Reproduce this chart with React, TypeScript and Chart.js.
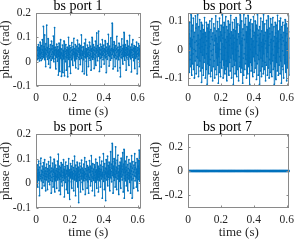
import React, { useEffect, useRef } from "react";
import { Chart, registerables } from "chart.js";

Chart.register(...registerables);

// sampling (s)
const SAMPLE_STEP = 0.001546;
const PORT7_STEP = 0.0031;
const TITLES = ["bs port 1", "bs port 3", "bs port 5", "bs port 7"];
const X_TICKS = [0, 0.2, 0.4, 0.6];
const X_MAX = 0.617;

// phase samples in milliradians
const PORT1_MRAD = [
  42, 18, 55, 30, 8, 61, 25, 47, 12, 70, 35, 20, 58, 3, 44, 28, 80, 15, 50, 33,
  5, 66, 38, 22, 90, 12, 48, 30, 145, 40, 18, 62, 26, 110, 8, 52, 35, -20, 74, 28,
  46, 150, 20, 58, 10, 38, 95, 25, -10, 64, 32, 15, 55, 40, -25, 70, 22, 48, 6, 84,
  30, 52, 14, 40, 66, 20, 105, 35, 0, 58, 28, 140, 45, 12, 60, 24, -30, 50, 36, 72,
  18, 44, 2, 62, 30, -55, 48, 22, 76, 10, 40, -40, 56, 26, 90, 14, 36, -60, 52, 32,
  8, 68, 24, -45, 46, 38, 12, 85, 28, -58, 54, 20, 42, 0, 70, 34, -35, 48, 16, 60,
  26, -62, 44, 36, 100, 10, 52, -20, 30, 66, 18, 40, -48, 58, 24, 46, 8, 78, 32, 14,
  50, -15, 62, 28, 40, 96, 20, 54, 4, 36, 70, 26, -25, 48, 34, 12, 64, 22, 88, 30,
  44, -30, 56, 18, 38, 72, 10, 50, 30, -12, 66, 24, 46, 110, 14, 58, 32, -40, 42, 26,
  62, 8, 48, 34, -50, 76, 20, 40, 28, 92, 16, 54, 2, 44, -55, 36, 68, 22, 50, 30,
  -20, 58, 38, 14, 80, 26, 46, 6, 64, 32, -35, 52, 20, 42, 100, 24, 56, 10, 36, 70,
  18, 48, -28, 60, 30, 44, 12, 84, 26, -15, 54, 36, 118, 20, 46, 4, 66, 28, 40, 125,
  22, 58, -40, 50, 34, 14, 72, 30, 48, -22, 62, 18, 40, 90, 26, 54, 8, 44, 32, 68,
  -10, 52, 24, 38, 86, 16, 46, 30, -45, 60, 20, 42, 10, 74, 34, 50, 112, 26, 56, -18,
  40, 64, 22, 48, 6, 36, 98, 28, 54, 14, 44, 158, 30, 70, -30, 50, 24, 40, 82, 18,
  58, 32, -20, 46, 26, 66, 12, 52, 38, 104, 20, 44, -38, 60, 28, 48, 8, 76, 34, 24,
  50, -25, -62, 40, 62, 18, 46, 30, 94, 14, 54, 36, -10, 68, 22, 42, 120, 28, 56, 6,
  38, 70, 24, 48, -35, 58, 32, 16, 86, 40, 26, 52, 10, 64, 30, -15, 46, 108, 20, 44,
  34, 60, 12, 50, -42, 38, 72, 26, 48, 18, 90, 30, 56, 4, 42, 66, 22, -28, 54, 36,
  14, 62, 40, 28, 80, 20, -50, 46, 32, 58, 10, 74, 36, 24, 52, -20, 44, 66, 30, 48,
];

const PORT3_MRAD = [
  30, -45, 70, -10, 55, -80, 20, 95, -35, 40, -60, 10, 122, -20, 65, -90, 35, 5, -50, 85,
  -15, 110, -70, 45, 0, -100, 60, 25, -40, 118, -5, 75, -85, 30, -25, 90, -55, 15, 122, -30,
  50, -95, 20, 80, -60, 5, 105, -40, 35, -75, 65, -10, 95, -115, 40, 10, -65, 85, -20, 55,
  -90, 25, 70, -45, 0, 112, -30, 60, -100, 15, 45, -70, 95, -15, 30, -122, 75, 5, -50, 88,
  -25, 40, -85, 62, 10, -55, 100, -35, 20, -95, 70, -5, 45, -75, 108, -20, 35, -110, 58, 0,
  -60, 90, 15, -40, 75, -100, 30, 50, -70, 118, -10, 40, -88, 65, -30, 20, 98, -55, 5, -118,
  72, -25, 45, -80, 110, 0, -45, 62, -95, 30, 85, -15, 50, -65, 20, 122, -35, 40, -100, 78,
  10, -55, 95, -20, 60, -85, 35, 5, -70, 115, -40, 25, 80, -110, 45, -10, 68, -60, 100, -25,
  30, -90, 55, 15, -45, 88, -75, 40, 120, -30, 62, -100, 20, 5, -60, 95, -15, 50, -122, 70,
  -35, 25, 105, -55, 40, -85, 65, 0, -40, 112, -20, 78, -95, 35, 10, -70, 90, -5, 55, -110,
  45, -25, 85, -60, 20, 122, -45, 60, -80, 30, -10, 100, -65, 40, 15, -118, 72, -30, 50, -90,
  122, -15, 35, -70, 88, 5, -50, 110, -35, 62, -100, 25, 80, -20, 45, -85, 120, -40, 10, -60,
  95, -30, 55, -122, 70, 0, -45, 105, -75, 38, 18, -55, 90, -10, 65, -95, 30, 115, -25, 48,
  -80, 60, 8, -40, 100, -65, 42, -15, 85, -105, 28, 72, -50, 122, -20, 50, -90, 15, 68, -35,
  40, -122, 80, -5, 55, -75, 110, -30, 25, -95, 65, 10, -60, 98, -40, 35, -85, 122, -15, 50,
  -70, 20, 90, -45, 60, -110, 30, 5, -55, 102, -25, 70, -90, 40, -10, 118, -65, 45, 15, -100,
  75, -35, 55, -80, 25, 108, -50, 35, -15, 88, -95, 62, 0, -40, 112, -70, 30, -20, 80, -122,
  45, 10, -60, 95, -30, 58, -105, 22, 85, -45, 40, -75, 120, -10, 65, -90, 28, 5, -55, 100,
  -25, 70, -85, 35, 110, -40, 52, -118, 18, 80, -60, 42, -5, 95, -70, 30, -100, 60, -20, 85,
  15, -50, 105, -35, 48, -80, 25, 90, -110, 55, 0, -45, 75, -65, 38, 118, -30, 62, -90, 40,
];

const PORT5_MRAD = [
  48, 20, 62, 8, 40, 75, 30, -15, 55, 25, 90, 12, 44, -50, 66, 34, 18, 80, 28, 102,
  10, 52, 36, -20, 70, 22, 46, 4, 84, 32, 58, -10, 40, 96, 16, 50, 28, -30, 64, 38,
  14, 78, 26, 48, -25, 60, 34, 6, 88, 20, 54, 40, -5, 72, 30, 106, 12, 46, -40, 62,
  24, 50, 8, 82, 36, -15, 58, 28, 44, 98, 18, 66, -35, 40, 30, 74, 10, 52, 26, -20,
  60, 34, 90, 14, 48, 118, 22, 56, -30, 42, 70, 16, 36, -45, 64, 28, 84, 6, 50, 32,
  -10, 76, 24, 44, 12, 96, 30, 58, -55, 40, 20, 68, 34, 4, 86, 26, -25, 52, 38, 72,
  16, 48, -40, 62, 30, 100, 10, 54, 36, -65, 44, 22, 80, 28, 58, 6, 70, -20, 46, 34,
  92, 18, 40, 64, -30, 52, 26, 110, 14, 48, 32, -50, 74, 38, 20, 60, 8, 86, 30, 44,
  -15, 66, 24, -78, 50, 36, 12, 82, 28, 56, -35, 42, 70, 18, 94, 30, 4, 62, 40, -25,
  54, 26, 78, 10, 46, 34, 104, 20, -45, 60, 38, 14, 88, 28, 52, -20, 72, 36, 6, 66,
  30, -40, 56, 24, 92, 16, 44, 70, -10, 50, 34, 112, 8, 62, 26, -30, 48, 80, 20, 40,
  58, 12, 76, 32, -50, 66, 22, 46, 98, 4, 54, 36, -20, 84, 28, 42, 14, 70, -35, 50,
  24, 60, 38, 106, 10, 48, -15, 74, 30, 56, 18, 90, 36, -60, 44, 26, 68, 120, 8, 52,
  34, -25, 80, 20, 46, 62, -70, 38, 96, 14, 58, 28, 42, 110, -10, 50, 72, 24, 36, 86,
  16, 64, -30, 54, 40, 128, 22, 48, 78, 6, 60, 162, 32, 88, -40, 44, 70, 26, 100, 12,
  56, 36, -15, 82, 148, 24, 50, 66, -25, 40, 94, 18, 60, 114, 30, 46, -45, 72, 28, 54,
  8, 86, 38, 62, -20, 102, 26, 48, 70, 14, 56, 124, 34, -35, 78, 42, 138, -60, 20, 58,
  30, 90, 46, 10, 66, -10, 52, 108, 36, 24, 76, -30, 44, 60, 18, 96, 32, 54, 4, 82,
  40, -40, 68, 26, 50, 112, 14, -60, 62, 36, 88, 20, 46, -20, 74, 30, 56, 120, 10, 64,
  28, 84, 42, -15, 58, 22, 100, 36, 48, -30, 70, 16, 92, 40, 135, 26, 60, 8, 50, 78,
];

const PORT7_MRAD = [
  0, 0, 0, 0, 0, 0, 0, 0, 0, 0, 0, 0, 0, 0, 0, 0, 0, 0, 0, 0,
  0, 0, 0, 0, 0, 0, 0, 0, 0, 0, 0, 0, 0, 0, 0, 0, 0, 0, 0, 0,
  0, 0, 0, 0, 0, 0, 0, 0, 0, 0, 0, 0, 0, 0, 0, 0, 0, 0, 0, 0,
  0, 0, 0, 0, 0, 0, 0, 0, 0, 0, 0, 0, 0, 0, 0, 0, 0, 0, 0, 0,
  0, 0, 0, 0, 0, 0, 0, 0, 0, 0, 0, 0, 0, 0, 0, 0, 0, 0, 0, 0,
  0, 0, 0, 0, 0, 0, 0, 0, 0, 0, 0, 0, 0, 0, 0, 0, 0, 0, 0, 0,
  0, 0, 0, 0, 0, 0, 0, 0, 0, 0, 0, 0, 0, 0, 0, 0, 0, 0, 0, 0,
  0, 0, 0, 0, 0, 0, 0, 0, 0, 0, 0, 0, 0, 0, 0, 0, 0, 0, 0, 0,
  0, 0, 0, 0, 0, 0, 0, 0, 0, 0, 0, 0, 0, 0, 0, 0, 0, 0, 0, 0,
  0, 0, 0, 0, 0, 0, 0, 0, 0, 0, 0, 0, 0, 0, 0, 0, 0, 0, 0, 0,
];

const Y_TICKS_1 = [-0.1, 0, 0.1, 0.2];
const Y_TICKS_3 = [-0.1, 0, 0.1];
const Y_TICKS_5 = [-0.1, 0, 0.1, 0.2];
const Y_TICKS_7 = [-0.2, 0, 0.2];

const FONT = '"Liberation Serif", "Times New Roman", serif';
const BLUE = "#0072BD";

const boxPlugin = {
  id: "mbox",
  afterDraw(chart: any, _args: any, opts: any) {
    const { ctx, chartArea: a, scales } = chart;
    ctx.save();
    ctx.strokeStyle = "#8a8a8a";
    ctx.lineWidth = 1;
    const l = Math.round(a.left) + 0.5;
    const t = Math.round(a.top) + 0.5;
    const r = Math.round(a.right) - 0.5;
    const b = Math.round(a.bottom) - 0.5;
    ctx.strokeRect(l, t, r - l, b - t);
    const tl = 2;
    ctx.beginPath();
    scales.x.ticks.forEach((tk: any) => {
      const px = Math.round(scales.x.getPixelForValue(tk.value)) + 0.5;
      ctx.moveTo(px, b);
      ctx.lineTo(px, b - tl);
      ctx.moveTo(px, t);
      ctx.lineTo(px, t + tl);
    });
    scales.y.ticks.forEach((tk: any) => {
      const py = Math.round(scales.y.getPixelForValue(tk.value)) + 0.5;
      ctx.moveTo(l, py);
      ctx.lineTo(l + tl, py);
      ctx.moveTo(r, py);
      ctx.lineTo(r - tl, py);
    });
    ctx.stroke();
    // title
    if (opts && opts.text) {
      ctx.fillStyle = "#000";
      ctx.font = `14px ${FONT}`;
      ctx.textAlign = "center";
      ctx.textBaseline = "alphabetic";
      ctx.fillText(opts.text, chart.width / 2 + 3, 9.5);
    }
    ctx.restore();
  },
};

const fmt = (v: any) => String(Math.round(Number(v) * 100) / 100);

type PanelProps = {
  title: string;
  valuesMrad: number[];
  step: number;
  yMin: number;
  yMax: number;
  yTicks: number[];
  left: number;
  top: number;
  width: number;
  height: number;
  yWidth: number;
  rightPad: number;
  xHeight: number;
  thick?: boolean;
};

function Panel(p: PanelProps) {
  const ref = useRef<HTMLCanvasElement>(null);
  useEffect(() => {
    if (!ref.current) return;
    const data = p.valuesMrad.map((v, i) => ({ x: i * p.step, y: v / 1000 }));
    const chart = new Chart(ref.current, {
      type: "line",
      data: {
        datasets: [
          {
            data,
            borderColor: BLUE,
            borderWidth: p.thick ? 1.5 : 0.7,
            pointRadius: p.thick ? 1.2 : 0.9,
            pointBackgroundColor: BLUE,
            pointBorderWidth: 0,
            tension: 0,
          },
        ],
      },
      options: {
        responsive: false,
        animation: false,
        devicePixelRatio: 1,
        layout: { padding: { top: 13, right: p.rightPad, bottom: 0, left: 0 } },
        plugins: {
          legend: { display: false },
          tooltip: { enabled: false },
          title: { display: false },
          mbox: { text: p.title },
        },
        scales: {
          x: {
            type: "linear",
            min: 0,
            max: X_MAX,
            afterBuildTicks: (s: any) => {
              s.ticks = X_TICKS.map((v) => ({ value: v }));
            },
            afterFit: (s: any) => {
              s.height = p.xHeight;
            },
            grid: { display: false, drawTicks: false },
            border: { display: false },
            ticks: {
              autoSkip: false,
              maxRotation: 0,
              padding: 5,
              color: "#262626",
              font: { family: FONT, size: 11.5 },
              callback: fmt,
            },
            title: {
              display: true,
              text: "time (s)",
              color: "#262626",
              font: { family: FONT, size: 13 },
              padding: { top: 0, bottom: 2 },
            },
          },
          y: {
            type: "linear",
            min: p.yMin,
            max: p.yMax,
            afterBuildTicks: (s: any) => {
              s.ticks = p.yTicks.map((v) => ({ value: v }));
            },
            afterFit: (s: any) => {
              s.width = p.yWidth;
            },
            grid: { display: false, drawTicks: false },
            border: { display: false },
            ticks: {
              autoSkip: false,
              padding: 5,
              color: "#262626",
              font: { family: FONT, size: 11.5 },
              callback: fmt,
            },
            title: {
              display: true,
              text: "phase (rad)",
              color: "#262626",
              font: { family: FONT, size: 13 },
              padding: { top: -2, bottom: 0 },
            },
          },
        },
      },
      plugins: [boxPlugin],
    } as any);
    return () => chart.destroy();
  }, []);
  return (
    <canvas
      ref={ref}
      width={p.width}
      height={p.height}
      style={{ position: "absolute", left: p.left, top: p.top, width: p.width, height: p.height }}
    />
  );
}

export default function App() {
  return (
    <div style={{ position: "fixed", left: 0, top: 0, width: 299, height: 242, background: "#fff" }}>
      <Panel title={TITLES[0]} valuesMrad={PORT1_MRAD} step={SAMPLE_STEP} yMin={-0.1} yMax={0.2} yTicks={Y_TICKS_1}
        left={0} top={0} width={150} height={121} yWidth={36} rightPad={6} xHeight={35} />
      <Panel title={TITLES[1]} valuesMrad={PORT3_MRAD} step={SAMPLE_STEP} yMin={-0.128} yMax={0.128} yTicks={Y_TICKS_3}
        left={150} top={0} width={149} height={121} yWidth={38} rightPad={4} xHeight={35} />
      <Panel title={TITLES[2]} valuesMrad={PORT5_MRAD} step={SAMPLE_STEP} yMin={-0.1} yMax={0.2} yTicks={Y_TICKS_5}
        left={0} top={121} width={150} height={121} yWidth={36} rightPad={6} xHeight={34} />
      <Panel title={TITLES[3]} valuesMrad={PORT7_MRAD} step={PORT7_STEP} yMin={-0.31} yMax={0.31} yTicks={Y_TICKS_7}
        left={150} top={121} width={149} height={121} yWidth={38} rightPad={4} xHeight={34} thick />
    </div>
  );
}
